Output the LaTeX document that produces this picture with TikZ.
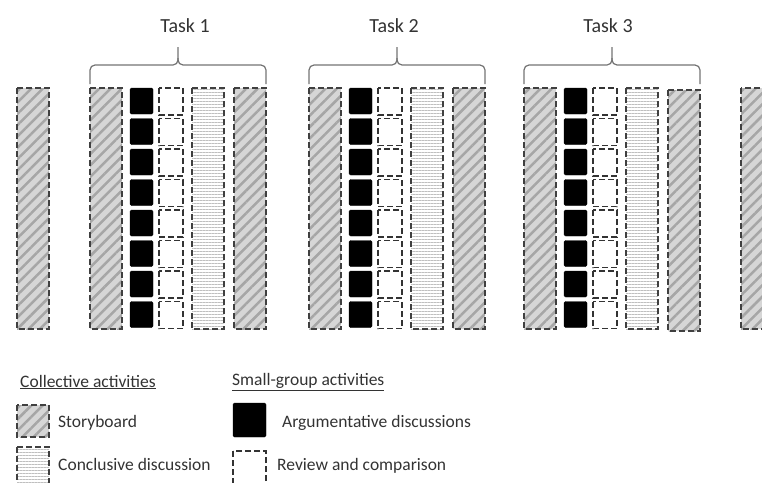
\documentclass[tikz,border=0pt]{standalone}
\usepackage{fontspec}
\setmainfont{Carlito}
\usetikzlibrary{patterns.meta}

\tikzset{
  sboard/.style={draw=black!75, line width=1.6pt, dash pattern=on 6pt off 3pt,
    preaction={fill=gray!32},
    preaction={pattern={Lines[angle=45,distance=8pt,line width=2.5pt]}, pattern color=gray!70}},
  concl/.style={draw=black!75, line width=1.6pt, dash pattern=on 6pt off 3pt,
    preaction={pattern={Lines[angle=0,distance=3pt,line width=0.7pt]}, pattern color=gray!50}},
  argbox/.style={fill=black, draw=black, rounded corners=1.5pt},
  revbox/.style={draw=black!80, line width=1.6pt, dash pattern=on 6pt off 3pt},
  braceline/.style={draw=black!55, line width=1.2pt, rounded corners=5pt},
  tasklabel/.style={text=black!80, font=\fontsize{20}{24}\selectfont},
  legtext/.style={text=black!80, anchor=west, inner sep=0pt, font=\fontsize{17.5}{21}\selectfont}
}

\begin{document}
\begin{tikzpicture}[x=1pt,y=-1pt]

    \useasboundingbox (0,0) rectangle (762,482);
    \clip (0,0) rectangle (762,482);

    % storyboards outside the tasks
    \draw[sboard] (17,88) rectangle (49,329);
    \draw[sboard] (741,88) rectangle (775,329);

    % the three tasks
    \foreach \x/\n/\lx/\dy in {90/1/185/0,309/2/394/0,524/3/608/2}{
      \draw[sboard] (\x,88) rectangle ++(32,241);
      \foreach \i in {0,...,7}{
        \draw[argbox] (\x+40,88+\i*30.5) rectangle ++(23,26);
        \draw[revbox] (\x+69,88+\i*30.5) rectangle ++(24,27);
      }
      \draw[concl] (\x+102,88) rectangle ++(32,241);
      \draw[sboard] (\x+144,88+\dy) rectangle ++(32,241);

      \draw[braceline] (\x,84) -- (\x,65) -- (\x+88,65) -- (\x+88,47);
      \draw[braceline] (\x+176,84) -- (\x+176,65) -- (\x+88,65) -- (\x+88,58);
      \node[tasklabel] (task\n) at (\lx,26) {Task \n};
    }

    % legend
    \node[legtext] (colltitle) at (20,382) {\underline{Collective activities}};
    \node[legtext] (smalltitle) at (232,382) {\underline{Small-group activities}};

    \draw[sboard] (17,405) rectangle (49,437);
    \node[legtext] (storyboard) at (58,423) {Storyboard};
    \draw[concl] (17,447) rectangle (49,490);
    \node[legtext] (conclusive) at (58,464) {Conclusive discussion};

    \draw[argbox] (233,403) rectangle (266,437);
    \node[legtext] (argument) at (282,423) {Argumentative discussions};
    \draw[revbox] (233,451) rectangle (266,490);
    \node[legtext] (review) at (277,466) {Review and comparison};

\end{tikzpicture}
\end{document}
